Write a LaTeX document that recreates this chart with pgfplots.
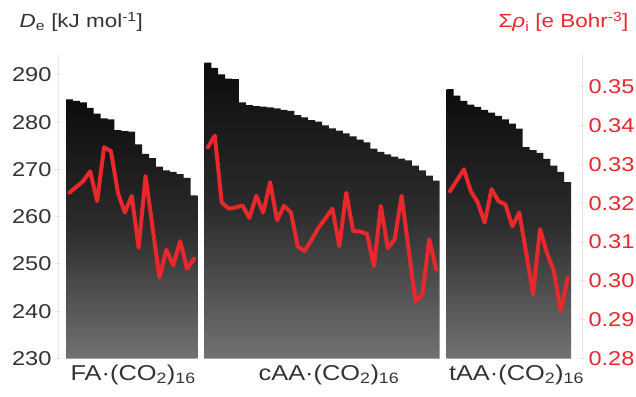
\documentclass[border=0pt]{standalone}
\usepackage{fontspec}
\setmainfont{Liberation Sans}[FakeStretch=1.18]
\usepackage{pgfplots}
\usepackage{pgfplotstable}
\pgfplotsset{compat=1.18}
\definecolor{myred}{HTML}{E8282C}
\definecolor{ticktext}{HTML}{333333}
\definecolor{bartop}{HTML}{0C0C0C}
\definecolor{barmid}{HTML}{2C2C2C}
\definecolor{barbot}{HTML}{727272}

% FA.(CO2)16 : x = bar position, de = D_e [kJ/mol], rho = sum rho_i [e/Bohr^3]
\pgfplotstableread{
x de rho
-0.5 284.8 nan
0 284.8 0.3227
1 284.5 0.3242
2 284.2 0.3257
3 283.0 0.3282
4 281.8 0.3205
5 280.8 0.3344
6 280.6 0.3334
7 278.3 0.3227
8 278.1 0.3176
9 278.0 0.3219
10 275.3 0.3085
11 273.3 0.3270
12 272.4 0.3139
13 270.6 0.3008
14 269.8 0.3080
15 269.5 0.3040
16 269.0 0.3102
17 268.2 0.3031
18 264.5 0.3057
18.5 264.5 nan
}\fa

% cAA.(CO2)16
\pgfplotstableread{
x de rho
19.5 292.6 nan
20 292.6 0.3344
21 291.5 0.3374
22 290.1 0.3202
23 289.2 0.3186
24 289.1 0.3189
25 284.2 0.3194
26 283.6 0.3162
27 283.4 0.3219
28 283.3 0.3176
29 283.1 0.3254
30 282.9 0.3156
31 282.6 0.3193
32 282.4 0.3176
33 281.5 0.3088
34 281.0 0.3077
35 280.4 0.3106
36 280.1 0.3137
37 279.3 0.3161
38 278.7 0.3186
39 278.2 0.3089
40 277.6 0.3227
41 277.0 0.3128
42 276.3 0.3127
43 275.7 0.3121
44 274.4 0.3038
45 273.7 0.3193
46 273.2 0.3084
47 272.7 0.3107
48 272.3 0.3219
49 271.9 0.3082
50 270.8 0.2948
51 269.8 0.2965
52 268.7 0.3107
53 267.6 0.3029
53.5 267.6 nan
}\caa

% tAA.(CO2)16
\pgfplotstableread{
x de rho
54.5 287.0 nan
55 287.0 0.3231
56 285.6 0.3259
57 284.5 0.3287
58 283.7 0.3231
59 283.2 0.3202
60 282.6 0.3150
61 282.0 0.3236
62 281.3 0.3205
63 280.6 0.3197
64 279.7 0.3140
65 278.6 0.3176
66 274.7 0.3072
67 274.1 0.2965
68 273.5 0.3133
69 272.2 0.3072
70 270.8 0.3025
71 269.5 0.2922
72 267.3 0.3008
72.5 267.3 nan
}\taa

\begin{document}
\begin{tikzpicture}
\useasboundingbox (0,0) rectangle (636pt,396pt);
\begin{axis}[
  at={(58pt,37.5pt)}, anchor=south west,
  scale only axis, width=524pt, height=303.5pt,
  xmin=-1.656, xmax=74.07, ymin=230, ymax=294.2,
  y coord trafo/.code={\pgfmathparse{#1-230}},
  y coord inv trafo/.code={\pgfmathparse{#1+230}},
  axis lines*=left,
  x axis line style={draw=none},
  y axis line style={draw=black!10, line width=1pt},
  xtick={9.2,37.5,64.6},
  xticklabels={FA·(CO\textsubscript{2})\textsubscript{16},cAA·(CO\textsubscript{2})\textsubscript{16},tAA·(CO\textsubscript{2})\textsubscript{16}},
  major x tick style={draw=none},
  xticklabel style={font=\fontsize{21.5}{24}\selectfont, text=ticktext, anchor=north},
  ytick={230,240,250,260,270,280,290},
  major y tick style={draw=black!10, line width=1pt},
  tick align=center, major tick length=6pt,
  yticklabel style={font=\fontsize{20}{24}\selectfont, text=ticktext, /pgf/number format/fixed, /pgf/number format/precision=0},
  /pgf/number format/assume math mode=true,
  ylabel={\textit{D}\textsubscript{e} [kJ mol\textsuperscript{-1}]},
  every axis y label/.style={at={(rel axis cs:-0.0800,1.089)}, anchor=base west, font=\fontsize{19}{22}\selectfont, text=ticktext},
]
\addplot[const plot mark mid, draw=none, top color=bartop, bottom color=barbot, middle color=barmid] table[x=x,y=de]{\fa} \closedcycle;
\addplot[const plot mark mid, draw=none, top color=bartop, bottom color=barbot, middle color=barmid] table[x=x,y=de]{\caa} \closedcycle;
\addplot[const plot mark mid, draw=none, top color=bartop, bottom color=barbot, middle color=barmid] table[x=x,y=de]{\taa} \closedcycle;
\end{axis}
\begin{axis}[
  at={(58pt,37.5pt)}, anchor=south west,
  scale only axis, width=524pt, height=303.5pt,
  xmin=-1.656, xmax=74.07, ymin=0.28, ymax=0.35816,
  axis y line*=right, axis x line=none,
  y axis line style={draw=myred!15, line width=1pt},
  ytick={0.28,0.29,0.30,0.31,0.32,0.33,0.34,0.35},
  major y tick style={draw=myred!15, line width=1pt},
  tick align=center, major tick length=6pt,
  yticklabel style={font=\fontsize{20}{24}\selectfont, text=myred, /pgf/number format/fixed, /pgf/number format/fixed zerofill, /pgf/number format/precision=2},
  /pgf/number format/assume math mode=true,
  ylabel={Σ\textit{ρ}\textsubscript{i} [e Bohr\textsuperscript{-3}]},
  every axis y label/.style={at={(rel axis cs:1.0954,1.089)}, anchor=base east, font=\fontsize{19}{22}\selectfont, text=myred},
]
\addplot[myred, line width=4pt, line join=round, line cap=round] table[x=x,y=rho]{\fa};
\addplot[myred, line width=4pt, line join=round, line cap=round] table[x=x,y=rho]{\caa};
\addplot[myred, line width=4pt, line join=round, line cap=round] table[x=x,y=rho]{\taa};
\end{axis}
\end{tikzpicture}
\end{document}
